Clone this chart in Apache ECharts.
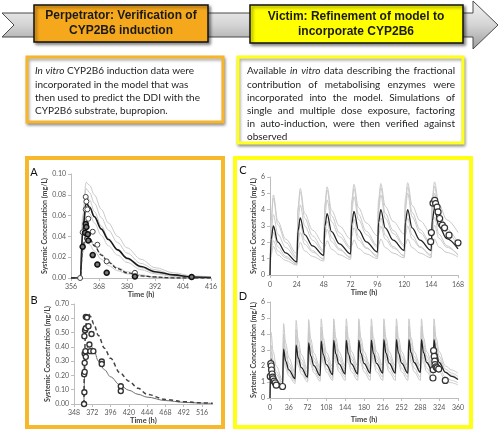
<!DOCTYPE html>
<html><head><meta charset="utf-8">
<script src="https://cdn.jsdelivr.net/npm/echarts@6/dist/echarts.min.js"></script>
<style>html,body{margin:0;padding:0;background:#fff}#c{width:500px;height:430px}</style>
</head><body><div id="c"></div><script>
// ---------------- DATA ----------------
// Panel A
const A_t = [356,360,361,362.5,364,366,369,372,376,380,386,392,400,408,416];
const A_mean = [0,0,0.045,0.072,0.068,0.059,0.047,0.037,0.027,0.019,0.011,0.006,0.003,0.001,0.0005];
const A_dash = [0,0,0.030,0.042,0.038,0.031,0.022,0.015,0.009,0.005,0.002,0.001,0,0,0];
const A_g1 = [0,0,0.060,0.092,0.089,0.080,0.066,0.053,0.040,0.029,0.018,0.010,0.005,0.002,0.001];
const A_g2 = [0,0,0.055,0.086,0.082,0.072,0.058,0.046,0.034,0.024,0.014,0.008,0.003,0.0015,0.0005];
const A_g3 = [0,0,0.050,0.080,0.075,0.064,0.050,0.038,0.027,0.018,0.010,0.005,0.002,0.001,0];
const A_g4 = [0,0,0.042,0.066,0.062,0.053,0.041,0.031,0.022,0.015,0.008,0.004,0.0015,0.0005,0];
const A_g5 = [0,0,0.028,0.040,0.037,0.031,0.023,0.016,0.010,0.006,0.003,0.001,0,0,0];
const A_g6 = [0,0,0.024,0.035,0.032,0.026,0.018,0.012,0.007,0.004,0.002,0.0005,0,0,0];
const A_obsOpen = [[359.9,0],[361,0.044],[362.3,0.078],[362.6,0.0735],[362.3,0.066],[363,0.066],[363.4,0.057],[365.3,0.0445],[367.3,0.032],[371.3,0.016],[383.4,0.005],[407.7,0.001]];
const A_obsFilled = [[361,0.030],[362,0.0435],[362.3,0.052],[362.6,0.049],[363.2,0.042],[363.4,0.036],[365.3,0.022],[367.3,0.013],[371.3,0.005],[383.4,0.0015],[407.7,0.001]];

// Panel B
const B_t = [361,362,363,365,367,370,374,380,388,396,408,420,432,444,468,492,516,530];
const B_dash = [0,0.35,0.52,0.61,0.63,0.61,0.56,0.48,0.39,0.32,0.22,0.16,0.11,0.068,0.032,0.016,0.008,0.005];
const B_solid = [0,0.20,0.32,0.39,0.415,0.41,0.38,0.30,0.24,0.19,0.135,0.096,0.068,0.048,0.024,0.012,0.006,0.004];
const B_obs = [[361.2,0],[361.6,0.082],[361.3,0.208],[362,0.225],[362,0.288],[362,0.354],[363.5,0.33],[363,0.37],[368.2,0.417],[369.5,0.37],[373.4,0.37],[361.6,0.475],[362.5,0.517],[363.5,0.53],[363.5,0.61],[365,0.605],[367,0.545],[371,0.49],[384.4,0.297],[384.4,0.28],[409.4,0.124],[409.4,0.091]];

// Panel C
const C_t = [0,1,3,7,14, 24,25,27,31,38, 48,49,51,55,62, 72,73,75,79,86, 96,97,99,103,110, 120,121,123,127,134, 144,145,147,151,158, 168];
const C_mean = [0,2.2,3.0,2.01,1.35, 0.8,2.7,3.5,2.47,1.78, 1.2,2.99,3.75,2.65,1.91, 1.3,3.12,3.9,2.78,2.03, 1.4,3.22,4.0,2.88,2.13, 1.5,3.25,4.0,2.88,2.13, 1.5,3.32,4.1,2.98,2.23, 1.6];
const C_g1 = [0,3.4,4.9,3.28,2.2, 1.3,4.1,5.3,3.77,2.75, 1.9,4.35,5.4,3.96,3.0, 2.2,4.55,5.55,4.13,3.19, 2.4,4.64,5.6,4.21,3.28, 2.5,4.71,5.65,4.26,3.33, 2.55,4.76,5.7,4.31,3.38, 2.6];
const C_g2 = [0,3.3,4.7,3.08,2.0, 1.1,3.9,5.1,3.48,2.4, 1.5,4.09,5.2,3.63,2.58, 1.7,4.22,5.3,3.73,2.68, 1.8,4.29,5.35,3.78,2.73, 1.85,4.34,5.4,3.83,2.78, 1.9,4.39,5.45,3.88,2.83, 1.95];
const C_g3 = [0,2.6,3.7,2.49,1.68, 1.0,3.31,4.3,3.0,2.13, 1.4,3.64,4.6,3.25,2.35, 1.6,3.84,4.8,3.41,2.48, 1.7,3.94,4.9,3.48,2.54, 1.75,4.03,5.0,3.56,2.6, 1.8,4.04,5.0,3.56,2.6, 1.8];
const C_g4 = [0,1.5,2.1,1.47,1.05, 0.7,2.03,2.6,1.88,1.4, 1.0,2.26,2.8,2.04,1.53, 1.1,2.36,2.9,2.14,1.63, 1.2,2.46,3.0,2.19,1.65, 1.2,2.46,3.0,2.21,1.69, 1.25,2.51,3.05,2.24,1.7, 1.25];
const C_g5 = [0,1.25,1.75,1.23,0.89, 0.6,1.58,2.0,1.48,1.14, 0.85,1.73,2.1,1.58,1.24, 0.95,1.79,2.15,1.63,1.29, 1.0,1.84,2.2,1.68,1.34, 1.05,1.86,2.2,1.68,1.34, 1.05,1.86,2.2,1.71,1.38, 1.1];
const C_g6 = [0,1.8,2.6,1.72,1.14, 0.65,2.37,3.1,2.13,1.49, 0.95,2.6,3.3,2.29,1.61, 1.05,2.7,3.4,2.37,1.68, 1.1,2.78,3.5,2.44,1.74, 1.15,2.8,3.5,2.44,1.74, 1.15,2.83,3.55,2.49,1.79, 1.2];
const C_obs = [[143.6,2.04],[144.2,2.6],[145.7,4.4],[147.2,4.57],[148,4.37],[149.3,4.16],[150.2,3.86],[151.6,3.46],[154,3.05],[156,2.89],[160,2.44],[168,1.97]];

// Panel D
const D_t = [0,2,6,12, 24,26,30,36, 48,50,54,60, 72,74,78,84, 96,98,102,108, 120,122,126,132, 144,146,150,156, 168,170,174,180, 192,194,198,204, 216,218,222,228, 240,242,246,252, 264,266,270,276, 288,290,294,300, 312,314,318,324, 336,348,360];
const D_mean = [0,2.45,1.55,1.05, 0.75,3.05,2.31,1.76, 1.2,3.3,2.5,1.9, 1.3,3.45,2.63,2.02, 1.4,3.55,2.71,2.08, 1.45,3.6,2.76,2.13, 1.5,3.6,2.76,2.13, 1.5,3.62,2.79,2.17, 1.55,3.62,2.79,2.17, 1.55,3.64,2.8,2.18, 1.55,3.64,2.8,2.18, 1.55,3.65,2.83,2.22, 1.6,3.65,2.83,2.22, 1.6,3.65,2.83,2.22, 1.6,1.35,1.15];
const D_g1 = [0,4.1,2.9,2.0, 1.1,4.65,3.43,2.52, 1.6,4.85,3.63,2.72, 1.8,4.9,3.7,2.8, 1.9,4.95,3.75,2.85, 1.95,4.95,3.77,2.9, 2.0,4.95,3.77,2.9, 2.0,4.95,3.77,2.9, 2.0,4.95,3.77,2.9, 2.0,4.95,3.77,2.9, 2.0,4.95,3.77,2.9, 2.0,4.95,3.77,2.9, 2.0,4.95,3.77,2.9, 2.0,4.95,3.77,2.9, 2.0,1.75,1.55];
const D_g2 = [0,3.3,2.36,1.65, 0.95,4.0,2.96,2.18, 1.4,4.3,3.22,2.41, 1.6,4.4,3.32,2.51, 1.7,4.45,3.37,2.56, 1.75,4.5,3.42,2.61, 1.8,4.5,3.42,2.61, 1.8,4.5,3.42,2.61, 1.8,4.5,3.42,2.61, 1.8,4.5,3.42,2.61, 1.8,4.5,3.42,2.61, 1.8,4.5,3.42,2.61, 1.8,4.5,3.42,2.61, 1.8,4.5,3.42,2.61, 1.8,1.55,1.35];
const D_g3 = [0,2.2,1.6,1.15, 0.7,2.8,2.1,1.58, 1.05,3.0,2.26,1.71, 1.15,3.1,2.34,1.77, 1.2,3.15,2.39,1.82, 1.25,3.2,2.44,1.87, 1.3,3.2,2.44,1.87, 1.3,3.2,2.44,1.87, 1.3,3.2,2.44,1.87, 1.3,3.2,2.44,1.87, 1.3,3.2,2.44,1.87, 1.3,3.2,2.44,1.87, 1.3,3.2,2.44,1.87, 1.3,3.2,2.44,1.87, 1.3,1.1,0.95];
const D_g4 = [0,1.9,1.38,0.99, 0.6,2.5,1.86,1.38, 0.9,2.7,2.02,1.51, 1.0,2.8,2.1,1.58, 1.05,2.85,2.15,1.63, 1.1,2.9,2.18,1.64, 1.1,2.9,2.18,1.64, 1.1,2.9,2.18,1.64, 1.1,2.9,2.18,1.64, 1.1,2.9,2.18,1.64, 1.1,2.9,2.18,1.64, 1.1,2.9,2.18,1.64, 1.1,2.9,2.18,1.64, 1.1,2.9,2.18,1.64, 1.1,0.95,0.82];
const D_g5 = [0,2.9,2.08,1.47, 0.85,3.6,2.68,1.99, 1.3,3.9,2.92,2.19, 1.45,4.05,3.05,2.3, 1.55,4.1,3.1,2.35, 1.6,4.15,3.15,2.4, 1.65,4.15,3.15,2.4, 1.65,4.15,3.15,2.4, 1.65,4.15,3.15,2.4, 1.65,4.15,3.15,2.4, 1.65,4.15,3.15,2.4, 1.65,4.15,3.15,2.4, 1.65,4.15,3.15,2.4, 1.65,4.15,3.15,2.4, 1.65,1.42,1.22];
const D_obs = [[0.5,1.35],[1.5,2.15],[2.5,2.0],[3,1.75],[4,1.5],[5,1.3],[6,1.2],[8,1.05],[10,0.95],[12,0.8],[24,0.72],[312,1.25],[312.5,1.77],[313.3,2.96],[314.5,2.6],[315.5,2.3],[316,2.08],[318,1.94],[320,1.88],[323,1.81],[335.7,1.1]];

// Texts / tick settings
const headerLeft = ['Perpetrator: Verification of', 'CYP2B6 induction'];
const headerRight = ['Victim: Refinement of model to', 'incorporate CYP2B6'];
const leftBoxLines = [
  [['In',1],['vitro',1],['CYP2B6',0],['induction',0],['data',0],['were',0]],
  [['incorporated',0],['in',0],['the',0],['model',0],['that',0],['was',0]],
  [['then',0],['used',0],['to',0],['predict',0],['the',0],['DDI',0],['with',0],['the',0]],
  [['CYP2B6',0],['substrate,',0],['bupropion.',0]]
];
const rightBoxLines = [
  [['Available',0],['in',1],['vitro',1],['data',0],['describing',0],['the',0],['fractional',0]],
  [['contribution',0],['of',0],['metabolising',0],['enzymes',0],['were',0]],
  [['incorporated',0],['into',0],['the',0],['model.',0],['Simulations',0],['of',0]],
  [['single',0],['and',0],['multiple',0],['dose',0],['exposure,',0],['factoring',0]],
  [['in',0],['auto-induction,',0],['were',0],['then',0],['verified',0],['against',0]],
  [['observed',0]]
];
const yName = 'Systemic Concentration (mg/L)';
const xName = 'Time (h)';

// ---------------- RENDER ----------------
const FONT = 'Lato, "Liberation Sans", sans-serif';
const BODY = 10;
const ctx = document.createElement('canvas').getContext('2d');
function fontStr(it){ return (it ? 'italic ' : '') + BODY + 'px Lato'; }
function measure(t, it){ ctx.font = fontStr(it); return ctx.measureText(t).width; }
function lineEls(words, x0, x1, y, justify){
  const ws = words.map(w => measure(w[0], w[1]));
  const total = ws.reduce((a,b)=>a+b,0);
  const sp = measure(' ', 0);
  let gap = (justify && words.length > 1) ? (x1 - x0 - total) / (words.length - 1) : sp;
  if (gap < 1.5) gap = 1.5;
  let x = x0; const els = [];
  words.forEach((w,i)=>{
    els.push({type:'text', x:x, y:y, z:10, silent:true,
      style:{text:w[0], font:fontStr(w[1]), fill:'#1e1e1e', verticalAlign:'middle', align:'left'}});
    x += ws[i] + gap;
  });
  return els;
}
const zip = (t, v) => t.map((x,i)=>[x, v[i]]);

const graphics = [];
// arrow
graphics.push({type:'polygon', z:0, silent:true,
  shape:{points:[[2,13],[473,13],[473,1],[498,25],[473,49],[473,37],[2,37],[14,25]]},
  style:{fill:new echarts.graphic.LinearGradient(0,0,0,1,[{offset:0,color:'#f4f4f4'},{offset:0.5,color:'#d4d4d4'},{offset:1,color:'#9c9c9c'}]), stroke:'#4a4a4a', lineWidth:1}});
// header boxes
graphics.push({type:'rect', z:1, silent:true, shape:{x:34,y:5,width:174,height:37},
  style:{fill:'#F6A81C', stroke:'#111', lineWidth:1.5, shadowBlur:3, shadowOffsetX:2, shadowOffsetY:2, shadowColor:'rgba(0,0,0,0.45)'}});
graphics.push({type:'rect', z:1, silent:true, shape:{x:250,y:5,width:213,height:38},
  style:{fill:'#FFFF00', stroke:'#111', lineWidth:1.5, shadowBlur:3, shadowOffsetX:2, shadowOffsetY:2, shadowColor:'rgba(0,0,0,0.45)'}});
headerLeft.forEach((t,i)=>graphics.push({type:'text', z:2, silent:true, x:121, y:16+i*15,
  style:{text:t, font:'bold 12px "Liberation Sans", Arial', fill:'#1a1a1a', align:'center', verticalAlign:'middle'}}));
headerRight.forEach((t,i)=>graphics.push({type:'text', z:2, silent:true, x:356, y:17+i*15,
  style:{text:t, font:'bold 12px "Liberation Sans", Arial', fill:'#1a1a1a', align:'center', verticalAlign:'middle'}}));
// text boxes
graphics.push({type:'rect', z:1, silent:true, shape:{x:27,y:57,width:196,height:65},
  style:{fill:'#fff', stroke:'#F7B52C', lineWidth:3, shadowBlur:3, shadowOffsetX:1, shadowOffsetY:2, shadowColor:'rgba(0,0,0,0.35)'}});
graphics.push({type:'rect', z:1, silent:true, shape:{x:238,y:57,width:225,height:86},
  style:{fill:'#fff', stroke:'#FFFF1E', lineWidth:3, shadowBlur:3, shadowOffsetX:1, shadowOffsetY:2, shadowColor:'rgba(0,0,0,0.35)'}});
const lineY = [71, 84.3, 97.7, 110.7, 123.5, 136.7];
leftBoxLines.forEach((ln,i)=>graphics.push(...lineEls(ln, 35, 215, lineY[i], false)));
rightBoxLines.forEach((ln,i)=>graphics.push(...lineEls(ln, 247, 455, lineY[i], i < rightBoxLines.length-1)));
// chart panels
graphics.push({type:'rect', z:0, silent:true, shape:{x:27,y:158,width:196,height:269},
  style:{fill:'#fff', stroke:'#F8B82B', lineWidth:4}});
graphics.push({type:'rect', z:0, silent:true, shape:{x:235,y:158,width:236,height:269},
  style:{fill:'#fff', stroke:'#FFFF14', lineWidth:4}});
[['A',34,172],['B',34,300],['C',243,170],['D',243,296]].forEach(p=>graphics.push({type:'text', z:3, silent:true, x:p[1], y:p[2],
  style:{text:p[0], font:'11px '+FONT, fill:'#111', align:'center', verticalAlign:'middle'}}));

const AX = '#bdbdbd';
function xAx(gi, min, max, interval, gap, margin, hideMax){
  return {type:'value', gridIndex:gi, min, max, interval,
    splitLine:{show:false},
    axisLine:{onZero:false, lineStyle:{color:AX, width:1}},
    axisTick:{show:true, length:3, lineStyle:{color:AX}},
    axisLabel:{fontSize:7, color:'#595959', margin, fontFamily:FONT, showMaxLabel: hideMax ? false : null},
    name:xName, nameLocation:'middle', nameGap:gap,
    nameTextStyle:{fontSize:7.5, fontWeight:'bold', color:'#404040', fontFamily:FONT}};
}
function yAx(gi, max, interval, dec, gap){
  return {type:'value', gridIndex:gi, min:0, max, interval,
    splitLine:{show:false},
    axisLine:{show:true, onZero:false, lineStyle:{color:AX, width:1}},
    axisTick:{show:true, length:3, lineStyle:{color:AX}},
    axisLabel:{fontSize:7, color:'#595959', margin:5, fontFamily:FONT, formatter:v=>v.toFixed(dec)},
    name:yName, nameLocation:'middle', nameGap:gap, nameRotate:90,
    nameTextStyle:{fontSize:7, fontWeight:'bold', color:'#404040', fontFamily:FONT}};
}
function ln(gi, t, v, color, width, type, z){
  return {type:'line', xAxisIndex:gi, yAxisIndex:gi, data:zip(t,v), showSymbol:false, symbol:'none',
    smooth:0.35, smoothMonotone:'x', silent:true, z:z||2,
    lineStyle:{color, width, type:type||'solid'}};
}
function sc(gi, data, size, fill, border, bw){
  return {type:'scatter', xAxisIndex:gi, yAxisIndex:gi, data, symbol:'circle', symbolSize:size, silent:true, z:6,
    itemStyle:{color:fill, borderColor:border, borderWidth:bw, opacity:1}};
}
const GREY = '#c9c9c9';
const series = [
  ...[A_g1,A_g2,A_g3,A_g4,A_g5,A_g6].map(v=>ln(0,A_t,v,GREY,1,'solid',2)),
  ln(0,A_t,A_mean,'#1a1a1a',1.6,'solid',4),
  ln(0,A_t,A_dash,'#333',1.3,[4,2],4),
  sc(0,A_obsOpen,5,'#fff','#444',1),
  sc(0,A_obsFilled,5,'#7a7a7a','#111',1.5),
  ln(1,B_t,B_solid,'#6e6e6e',1,'solid',3),
  ln(1,B_t,B_dash,'#444',1.5,[4,3],4),
  sc(1,B_obs,5,'#fff','#333',1.4),
  ...[C_g1,C_g2,C_g3,C_g4,C_g5,C_g6].map(v=>ln(2,C_t,v,GREY,1,'solid',2)),
  ln(2,C_t,C_mean,'#222',1.3,'solid',4),
  sc(2,C_obs,6,'#fff','#333',1.2),
  ...[D_g1,D_g2,D_g3,D_g4,D_g5].map(v=>ln(3,D_t,v,GREY,1,'solid',2)),
  ln(3,D_t,D_mean,'#222',1.3,'solid',4),
  sc(3,D_obs,6,'#fff','#333',1.2)
];

const chart = echarts.init(document.getElementById('c'), null, {renderer:'canvas'});
chart.setOption({
  animation:false,
  backgroundColor:'#fff',
  textStyle:{fontFamily:FONT},
  grid:[
    {left:71, top:174, width:140, height:104},
    {left:74, top:304, width:138.7, height:100},
    {left:270, top:177, width:188, height:98},
    {left:270, top:302, width:188, height:96}
  ],
  xAxis:[xAx(0,356,416,12,13,5), xAx(1,348,530,24,13,5,true), xAx(2,0,168,24,14,6), xAx(3,0,360,36,18,6)],
  yAxis:[yAx(0,0.10,0.02,2,21), yAx(1,0.70,0.10,2,22), yAx(2,6,1,0,13), yAx(3,6,1,0,13)],
  graphic:{elements:graphics},
  series
});
</script></body></html>
